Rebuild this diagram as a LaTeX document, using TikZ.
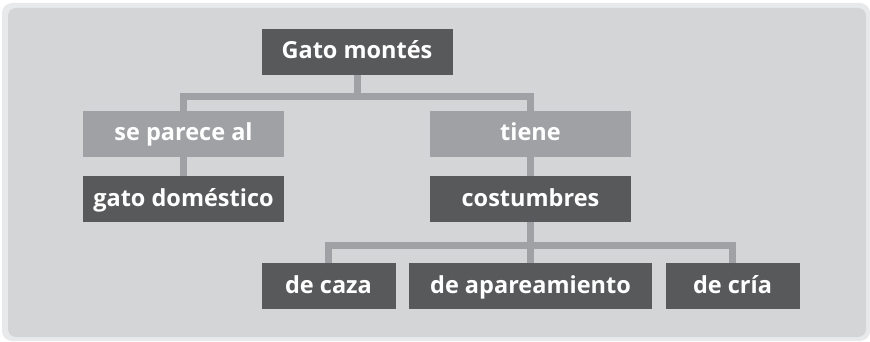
\documentclass[tikz,border=0pt]{standalone}
\usepackage{fontspec}
\setmainfont{Open Sans}
\usetikzlibrary{backgrounds}
\definecolor{boxdark}{HTML}{58595B}
\definecolor{boxlight}{HTML}{A0A1A4}
\definecolor{linegray}{HTML}{A0A1A4}
\definecolor{panel}{HTML}{D4D5D7}
\definecolor{panelrim}{HTML}{E8E9EA}
\tikzset{
  treenode/.style = {align=center, inner sep=0pt, text centered,
    font=\fontsize{23.5}{25}\selectfont\bfseries, text=white,
    minimum height=46pt, text height=18pt, text depth=4pt},
  dark_n/.style = {treenode, fill=boxdark, minimum width=201pt},% caja oscura
  light_n/.style = {treenode, fill=boxlight, minimum width=201pt},% caja clara (enlace)
  small_n/.style = {dark_n, minimum width=134pt},% hojas cortas
}
\begin{document}
\begin{tikzpicture}[x=1pt,y=1pt,
  edge from parent/.style={draw=linegray, line width=7pt, line join=miter},
  level 1/.style={sibling distance=347pt, level distance=82pt,
    edge from parent path={(\tikzparentnode.south) -- ++(0,-21) -| (\tikzchildnode.north)}},
  level 2/.style={level distance=65pt,
    edge from parent path={(\tikzparentnode.south) -- (\tikzchildnode.north)}},
  level 3/.style={sibling distance=202pt, level distance=87pt,
    edge from parent path={(\tikzparentnode.south) -- ++(0,-23) -| (\tikzchildnode.north)}}]

\useasboundingbox (0,0) rectangle (870,-342);
\fill [panelrim, rounded corners=10pt] (2,-3) rectangle (870,-341);
\fill [panel, rounded corners=8pt] (8,-8) rectangle (866,-337);

\node [dark_n, minimum width=191pt] (gato) at (357,-52) {Gato montés}
child{ node [light_n] (parece) {se parece al}
	child{ node [dark_n] (domestico) {gato doméstico} }
}
child{ node [light_n] (tiene) {tiene}
	child{ node [dark_n] (costumbres) {costumbres}
		child{ node [small_n] (caza) {de caza} }
		child{ node [dark_n, minimum width=243pt] (apareamiento) {de apareamiento} }
		child{ node [small_n] (cria) {de cría} }
	}
};
\end{tikzpicture}
\end{document}
